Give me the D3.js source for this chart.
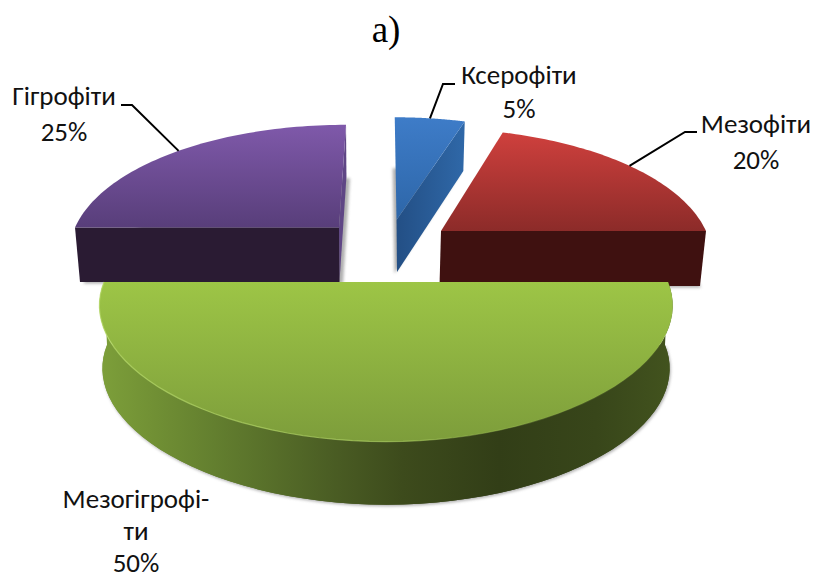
<!DOCTYPE html>
<html lang="uk">
<head>
<meta charset="utf-8">
<title>а)</title>
<script src="https://cdn.jsdelivr.net/npm/d3@7/dist/d3.min.js"></script>
<style>
  html, body { margin: 0; padding: 0; background: #fff; }
  svg { display: block; }
  .lbl { font-family: Carlito, Lato, "Noto Sans", sans-serif; font-size: 27px; fill: #111; text-anchor: middle; }
  .ttl { font-family: "Liberation Serif", serif; font-size: 37px; fill: #000; text-anchor: middle; }
</style>
</head>
<body>
<svg id="chart" width="814" height="579" viewBox="0 0 814 579"></svg>
<script>
// Shares of ecological groups, clockwise from twelve o'clock
const categories = ["Ксерофіти", "Мезофіти", "Мезогігрофіти", "Гігрофіти"];
const values = [5, 20, 50, 25];
const labelLines = [["Ксерофіти"], ["Мезофіти"], ["Мезогігрофі-", "ти"], ["Гігрофіти"]];

// Surface colours per slice: top gradient pair, and the shade of the cut faces
const topColors = [["#3e7cc8", "#2d66a8"], ["#cf403d", "#8c2b29"], ["#9dc546", "#7d9d3b"], ["#7f59aa", "#583e7a"]];
const faceColors = [["#234f85", "#2f68a8"], ["#3f1110", "#3f1110"], null, ["#2a1b33", "#2a1b33"]];
const sliverColor = "#5f4685";

// Exploded placement of each slice on the upper and lower rim planes
const placement = [
  { cx: 396.5, cy: 220,   rx: 265, bx: 397,   by: 272, brx: 258,   bry: 128, shadowDx: -2.5 },
  { cx: 441,   cy: 231,   rx: 265, bx: 439.5, by: 286, brx: 260.5, bry: 128, shadowDx: 1 },
  { cx: 386,   cy: 282,   rx: 282, bx: 386,   by: 345, brx: 279,   bry: 125, shadowDx: 1 },
  { cx: 339,   cy: 227.5, rx: 264, bx: 339.5, by: 282, brx: 259.5, bry: 128, shadowDx: 3.5 }
];
// Label anchors: centre x, first baseline, line step and the leader's elbow and end
const labelPos = [
  { x: 519, y: 84,  dy: 34, elbow: [443, 84],  end: [455, 84] },
  { x: 756, y: 133, dy: 36, elbow: [685, 132], end: [697, 132] },
  { x: 136, y: 508, dy: 32, elbow: null,       end: null },
  { x: 64,  y: 105, dy: 36, elbow: [132, 105], end: [121, 105] }
];

const vanishX = 385, RY = 125, KX = 0.18, KY = 0.217;

const svg = d3.select("#chart");
const defs = svg.append("defs");

const pieLayout = d3.pie().sort(null).startAngle(0).endAngle(2 * Math.PI);
const slices = pieLayout(values);

// Projects a rim point at a given angle onto the screen with simple perspective
function project(angle, cx, cy, rx, ry) {
  const X = Math.sin(angle), Y = Math.cos(angle);
  const wx = 1 / (1 + KX * Y), wy = 1 / (1 + KY * Y);
  return [vanishX + (cx + rx * X - vanishX) * wx, cy - ry * Y * wy];
}
const topPoint = (a, p) => project(a, p.cx, p.cy, p.rx, RY);
const bottomPoint = (a, p) => project(a, p.bx, p.by, p.brx, p.bry);

const line = d3.line();
const arcAngles = (a0, a1) => d3.range(0, 65).map(i => d3.interpolateNumber(a0, a1)(i / 64));

const sectorPath = (s, p, fn, apex) =>
  line([apex, ...arcAngles(s.startAngle, s.endAngle).map(a => fn(a, p))]) + "Z";

// Soft drop shadow under each slice
const blur = defs.append("filter").attr("id", "soft")
  .attr("x", "-10%").attr("y", "-10%").attr("width", "120%").attr("height", "120%");
blur.append("feGaussianBlur").attr("stdDeviation", 1.6);

function linearGradient(id, x1, y1, x2, y2, stops) {
  const g = defs.append("linearGradient").attr("id", id).attr("gradientUnits", "userSpaceOnUse")
    .attr("x1", x1).attr("y1", y1).attr("x2", x2).attr("y2", y2);
  stops.forEach(([o, c, a]) => {
    const st = g.append("stop").attr("offset", o).attr("stop-color", c);
    if (a !== undefined) st.attr("stop-opacity", a);
  });
}

// Drawing order keeps the front half on top of the rear slices
const order = [3, 0, 1, 2];

order.forEach(i => {
  const s = slices[i], p = placement[i];
  const g = svg.append("g").attr("class", "slice").datum(s);
  const apexTop = [p.cx, p.cy], apexBottom = [p.bx, p.by];
  const isFront = values[i] === d3.max(values);

  // shadow: the lower sector, blurred
  g.append("path")
    .attr("d", sectorPath(s, p, bottomPoint, apexBottom))
    .attr("transform", `translate(${p.shadowDx},1.5)`)
    .attr("fill", "#7a7a7a").attr("opacity", 0.6).attr("filter", "url(#soft)");

  if (isFront) {
    // curved outer wall of the front slice
    const arc = arcAngles(s.startAngle, s.endAngle);
    const wall = [...arc.map(a => topPoint(a, p)), ...arc.slice().reverse().map(a => bottomPoint(a, p))];
    linearGradient("wall", 100, 0, 670, 0, [
      [0, "#7d9f3a"], [0.1, "#708f34"], [0.2, "#637f2f"], [0.4, "#4b5e24"],
      [0.53, "#3d4b1c"], [0.7, "#323e17"], [0.87, "#38461a"], [1, "#42531e"]
    ]);
    g.append("path").attr("d", line(wall) + "Z").attr("fill", "url(#wall)");
    g.append("path").attr("d", sectorPath(s, p, bottomPoint, apexBottom)).attr("fill", "url(#wall)");
  } else {
    // straight cut faces that stay in view
    const outerEnd = topPoint(s.endAngle, p), outerEndB = bottomPoint(s.endAngle, p);
    const outerStart = topPoint(s.startAngle, p), outerStartB = bottomPoint(s.startAngle, p);
    const shade = faceColors[i];
    if (i === 3) {
      g.append("path").attr("d", line([apexTop, outerEnd, outerEndB, apexBottom]) + "Z").attr("fill", sliverColor);
      linearGradient("face" + i, outerStart[0], 0, apexTop[0], 0, [[0, shade[0]], [1, shade[1]]]);
      g.append("path").attr("d", line([apexTop, outerStart, outerStartB, apexBottom]) + "Z").attr("fill", "url(#face" + i + ")");
    } else {
      linearGradient("face" + i, apexTop[0], 0, outerEnd[0], 0, [[0, shade[0]], [1, shade[1]]]);
      g.append("path").attr("d", line([apexTop, outerEnd, outerEndB, apexBottom]) + "Z").attr("fill", "url(#face" + i + ")");
    }
  }

  // lit upper surface
  const ys = arcAngles(s.startAngle, s.endAngle).map(a => topPoint(a, p)[1]).concat(p.cy);
  linearGradient("top" + i, 0, d3.min(ys), 0, d3.max(ys), [[0, topColors[i][0]], [1, topColors[i][1]]]);
  g.append("path").attr("d", sectorPath(s, p, topPoint, apexTop)).attr("fill", "url(#top" + i + ")");

  if (isFront) {
    // bright bevel along the near rim, fading toward the right
    linearGradient("rim", 100, 0, 670, 0, [[0, "#b9dc6c", 0.7], [0.5, "#b2d568", 0.6], [0.8, "#a5c85a", 0.2], [1, "#a5c85a", 0.1]]);
    const rim = arcAngles(s.startAngle, s.endAngle).map(a => topPoint(a, p));
    g.append("path").attr("d", line(rim)).attr("fill", "none").attr("stroke", "url(#rim)").attr("stroke-width", 1.2);
  }
});

// Leader lines leave each rim at the slice's mid angle
const leaderLayer = svg.append("g").attr("class", "leaders");
slices.forEach((s, i) => {
  const pos = labelPos[i];
  if (!pos.elbow) return;
  const start = topPoint((s.startAngle + s.endAngle) / 2, placement[i]);
  leaderLayer.append("path")
    .attr("d", line([start, pos.elbow, pos.end]))
    .attr("fill", "none").attr("stroke", "#000").attr("stroke-width", 2);
});

// Category names with their percentage shares
const total = d3.sum(values);
const pct = d3.format(".0%");
const labelLayer = svg.append("g").attr("class", "labels");
slices.forEach((s, i) => {
  const pos = labelPos[i];
  const rows = [...labelLines[i], pct(values[i] / total)];
  rows.forEach((t, r) => {
    labelLayer.append("text").attr("class", "lbl")
      .attr("x", pos.x).attr("y", pos.y + r * pos.dy).text(t);
  });
});

svg.append("text").attr("class", "ttl").attr("x", 386).attr("y", 42).text("а)");
</script>
</body>
</html>
